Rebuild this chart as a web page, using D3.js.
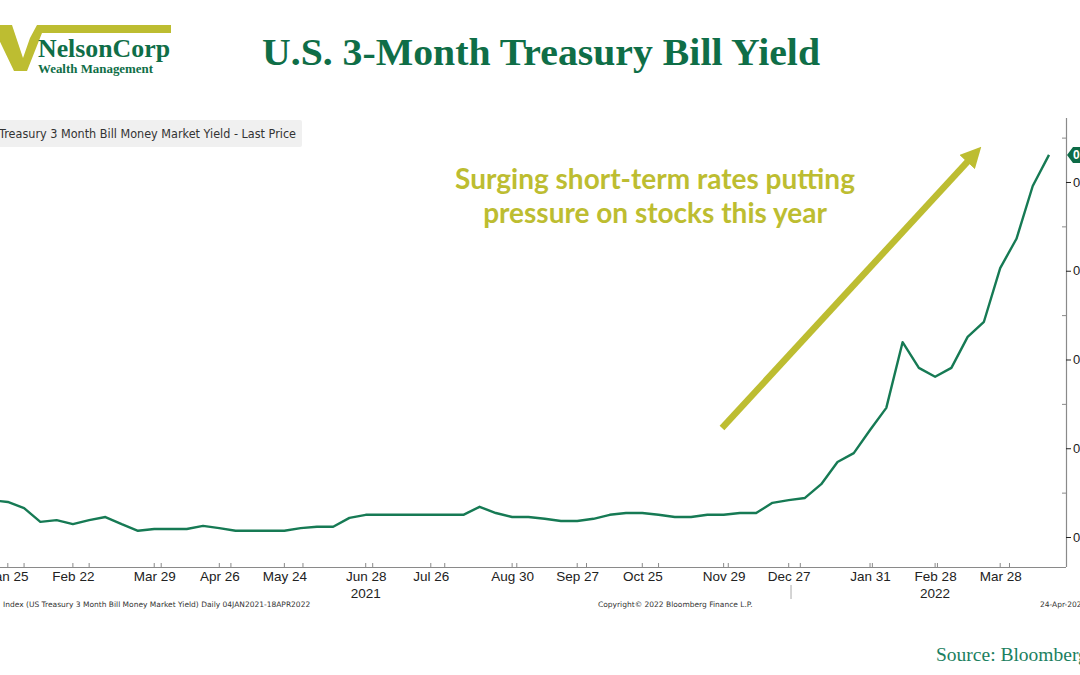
<!DOCTYPE html>
<html><head><meta charset="utf-8">
<script src="https://cdn.jsdelivr.net/npm/d3@7"></script>
<style>
html,body{margin:0;padding:0;background:#fff;overflow:hidden}
svg{display:block}
</style></head>
<body>
<svg id="chart" width="1080" height="675"></svg>
<script>
// ---- data ----
const startDate = "2021-01-04";           // first weekly observation (Monday)
const endDate = "2022-04-18";             // last weekly observation
const yields = [0.090,0.086,0.083,0.079,0.065,0.034,0.038,0.029,0.038,0.045,
  0.029,0.014,0.018,0.018,0.018,0.025,0.020,0.014,0.014,0.014,
  0.014,0.020,0.023,0.023,0.043,0.050,0.050,0.050,0.050,0.050,
  0.050,0.050,0.068,0.054,0.045,0.045,0.041,0.036,0.036,0.041,
  0.050,0.054,0.054,0.050,0.045,0.045,0.050,0.050,0.054,0.054,
  0.077,0.083,0.088,0.119,0.169,0.189,0.241,0.291,0.439,0.381,
  0.361,0.381,0.451,0.485,0.606,0.672,0.791,0.861];
const xTickLabels = ["2021-01-25","2021-02-22","2021-03-29","2021-04-26","2021-05-24","2021-06-28",
  "2021-07-26","2021-08-30","2021-09-27","2021-10-25","2021-11-29","2021-12-27",
  "2022-01-31","2022-02-28","2022-03-28"];
const yearLabels = [["2021-06-28","2021"],["2022-02-28","2022"]];
const yMajorTicks = [0,0.2,0.4,0.6,0.8];
const yMinorTicks = [0.1,0.3,0.5,0.7,0.9];
const seriesName = "Treasury 3 Month Bill Money Market Yield - Last Price";
const title = "U.S. 3-Month Treasury Bill Yield";
const noteLines = ["Surging short-term rates putting","pressure on stocks this year"];

const parse = d3.timeParse("%Y-%m-%d");
const t0 = parse(startDate);
const data = yields.map((v,i)=>({date:d3.timeWeek.offset(t0,i), v}));

const svg = d3.select("#chart");
const GREEN = "#0f6e47", LINE = "#167a54", OLIVE = "#bdbd31";

const x = d3.scaleTime().domain([t0, parse(endDate)]).range([-41, 1049]);
const y = d3.scaleLinear().domain([-0.0676, 0.9442]).range([567, 118]);

// ---- logo ----
const logo = svg.append("g");
logo.append("polygon").attr("points","-8,25 12,25 23,58 30,38 37,25 171,25 171,33 42,33 27,71 14,71")
  .attr("fill", OLIVE);
logo.append("text").attr("x",38).attr("y",57).attr("font-family","Liberation Serif, serif")
  .attr("font-weight","bold").attr("font-size",26).attr("fill",GREEN)
  .attr("textLength",132).attr("lengthAdjust","spacingAndGlyphs").text("NelsonCorp");
logo.append("text").attr("x",38).attr("y",72.5).attr("font-family","Liberation Serif, serif")
  .attr("font-weight","bold").attr("font-size",13).attr("fill",GREEN)
  .attr("textLength",115).attr("lengthAdjust","spacingAndGlyphs").text("Wealth Management");

// ---- title ----
svg.append("text").attr("x",541).attr("y",65).attr("text-anchor","middle")
  .attr("font-family","Liberation Serif, serif").attr("font-weight","bold")
  .attr("font-size",38).attr("fill",GREEN).attr("textLength",558)
  .attr("lengthAdjust","spacingAndGlyphs").text(title);

// ---- legend box ----
svg.append("rect").attr("x",-5).attr("y",120).attr("width",307).attr("height",27)
  .attr("rx",2).attr("fill","#f0f0f0");
svg.append("text").attr("x",-1).attr("y",138).attr("font-family","DejaVu Sans, sans-serif")
  .attr("font-size",11.5).attr("fill","#333").attr("textLength",297)
  .attr("lengthAdjust","spacingAndGlyphs").text(seriesName);

// ---- axes ----
const axisColor = "#8a8a8a";
svg.append("line").attr("x1",0).attr("x2",1066).attr("y1",567.5).attr("y2",567.5)
  .attr("stroke",axisColor).attr("stroke-width",1.2);
svg.append("line").attr("x1",1066.5).attr("x2",1066.5).attr("y1",118).attr("y2",567)
  .attr("stroke",axisColor).attr("stroke-width",1.2);

const yAxis = d3.axisRight(y).tickValues(yMajorTicks).tickSize(5).tickFormat(d3.format(".2f"));
const gy = svg.append("g").attr("transform","translate(1066,0)").call(yAxis);
gy.select(".domain").remove();
gy.selectAll(".tick line").attr("stroke","#222");
gy.selectAll(".tick text").attr("x",7).attr("font-family","Liberation Sans, Arial, sans-serif")
  .attr("font-size",13).attr("fill","#222");
const yMinor = d3.axisLeft(y).tickValues(yMinorTicks).tickSize(4).tickFormat("");
const gym = svg.append("g").attr("transform","translate(1066,0)").call(yMinor);
gym.select(".domain").remove();
gym.selectAll(".tick line").attr("stroke",axisColor);

const xTicks = xTickLabels.map(parse);
const xAxis = d3.axisBottom(x).tickValues(xTicks).tickSize(0).tickPadding(4)
  .tickFormat(d3.timeFormat("%b %-d"));
const gx = svg.append("g").attr("transform","translate(0,567)").call(xAxis);
gx.select(".domain").remove();
gx.selectAll(".tick text").attr("font-family","Liberation Sans, Arial, sans-serif")
  .attr("font-size",13.5).attr("fill","#222");
// small upward ticks at month starts and labelled dates
const monthStarts = d3.timeMonth.range(parse("2021-02-01"), parse("2022-04-19"));
svg.append("g").selectAll("line").data(monthStarts.concat(xTicks)).join("line")
  .attr("x1",d=>x(d)).attr("x2",d=>x(d)).attr("y1",567).attr("y2",563)
  .attr("stroke",axisColor);
svg.append("g").selectAll("text").data(yearLabels).join("text")
  .attr("x",d=>x(parse(d[0]))).attr("y",598).attr("text-anchor","middle")
  .attr("font-family","Liberation Sans, Arial, sans-serif").attr("font-size",13.5)
  .attr("fill","#222").text(d=>d[1]);
const yb = x(parse("2021-12-28"));
svg.append("line").attr("x1",yb).attr("x2",yb).attr("y1",585).attr("y2",599)
  .attr("stroke","#aaa");

// ---- series line ----
svg.append("path").datum(data)
  .attr("d", d3.line().x(d=>x(d.date)).y(d=>y(d.v)))
  .attr("fill","none").attr("stroke",LINE).attr("stroke-width",2.4)
  .attr("stroke-linejoin","round");

// last value tag
const last = data[data.length-1];
const ly = y(last.v);
svg.append("polygon")
  .attr("points",`1067,${ly} 1073,${ly-8} 1100,${ly-8} 1100,${ly+8} 1073,${ly+8}`)
  .attr("fill","#0d6b47");
svg.append("text").attr("x",1073).attr("y",ly+4.5).attr("font-family","Liberation Sans, Arial, sans-serif")
  .attr("font-size",12).attr("font-weight","bold").attr("fill","#fff").text(d3.format(".2f")(last.v));

// ---- annotation ----
svg.append("defs").append("marker").attr("id","ah").attr("viewBox","0 0 10 10")
  .attr("refX",2).attr("refY",5).attr("markerWidth",3.2).attr("markerHeight",3.2)
  .attr("orient","auto").append("path").attr("d","M0,0 L10,5 L0,10 z").attr("fill",OLIVE);
svg.append("line").attr("x1",722).attr("y1",428).attr("x2",970).attr("y2",159)
  .attr("stroke",OLIVE).attr("stroke-width",6.5).attr("marker-end","url(#ah)");
svg.append("g").selectAll("text").data(noteLines).join("text")
  .attr("x",655).attr("y",(d,i)=>189+i*34).attr("text-anchor","middle")
  .attr("font-family","Lato, sans-serif").attr("font-weight","bold").attr("font-size",28)
  .attr("fill",OLIVE).text(d=>d);

// ---- footer ----
const foot = svg.append("g").attr("font-family","DejaVu Sans, sans-serif").attr("font-size",7.5).attr("fill","#333");
foot.append("text").attr("x",3).attr("y",607).text("Index (US Treasury 3 Month Bill Money Market Yield)  Daily 04JAN2021-18APR2022");
foot.append("text").attr("x",598).attr("y",607).text("Copyright\u00A9 2022 Bloomberg Finance L.P.");
foot.append("text").attr("x",1040).attr("y",607).text("24-Apr-2022");
svg.append("text").attr("x",936).attr("y",661).attr("font-family","Liberation Serif, serif")
  .attr("font-size",19.5).attr("fill","#1b8060").text("Source: Bloomberg");
</script>
</body></html>
